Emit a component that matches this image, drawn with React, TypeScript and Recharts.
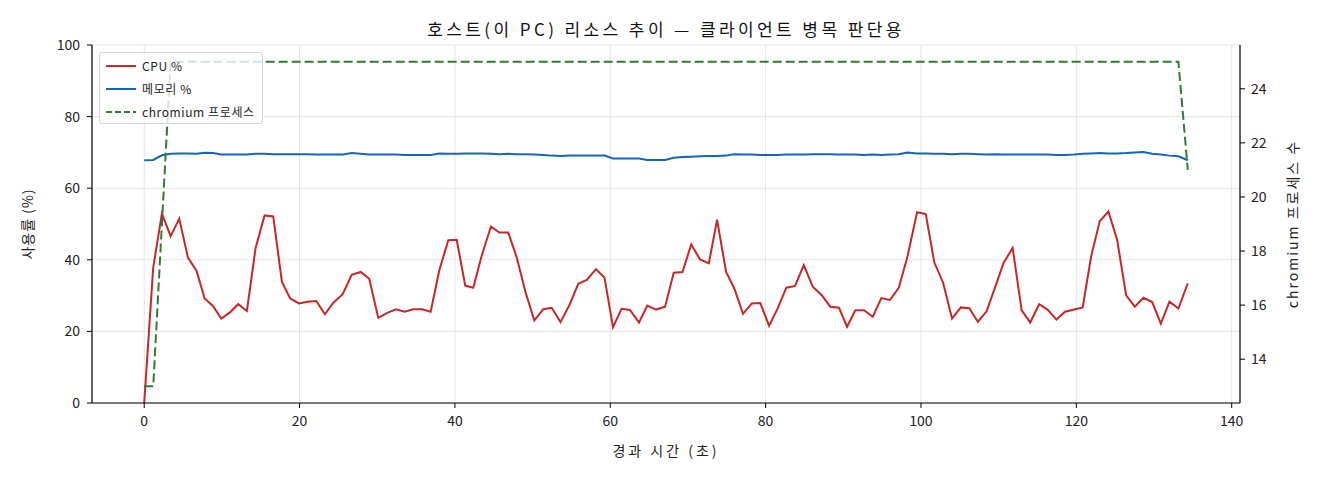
import React from "react";
import { ComposedChart, Line, XAxis, YAxis, CartesianGrid } from "recharts";

const FONT = "'Noto Sans CJK KR', 'Noto Sans', sans-serif";

const TITLE = "호스트(이 PC) 리소스 추이 — 클라이언트 병목 판단용";
const X_LABEL = "경과 시간 (초)";
const Y_LABEL = "사용률 (%)";
const Y2_LABEL = "chromium 프로세스 수";
const SERIES_NAMES = ["CPU %", "메모리 %", "chromium 프로세스"];

const X_TICKS = [0, 20, 40, 60, 80, 100, 120, 140];
const Y_TICKS = [0, 20, 40, 60, 80, 100];
const Y2_TICKS = [14, 16, 18, 20, 22, 24];

const times = [
  0, 1.16, 2.28, 3.4, 4.51, 5.63, 6.75, 7.78, 8.85, 9.92,
  11.04, 12.1, 13.22, 14.34, 15.5, 16.61, 17.73, 18.8, 19.92, 21.04,
  22.15, 23.27, 24.34, 25.55, 26.71, 27.87, 28.97, 30.13, 31.29, 32.41,
  33.51, 34.64, 35.76, 36.88, 37.99, 39.15, 40.23, 41.33, 42.36, 43.48,
  44.64, 45.71, 46.87, 47.95, 49.11, 50.22, 51.38, 52.46, 53.59, 54.73,
  55.88, 56.97, 58.16, 59.26, 60.35, 61.45, 62.54, 63.7, 64.77, 65.89,
  67.05, 68.17, 69.3, 70.42, 71.56, 72.69, 73.75, 74.91, 75.97, 77.09,
  78.21, 79.32, 80.44, 81.51, 82.67, 83.79, 84.91, 86.07, 87.23, 88.32,
  89.45, 90.48, 91.55, 92.67, 93.79, 94.9, 96.02, 97.14, 98.25, 99.5,
  100.62, 101.71, 102.85, 104.0, 105.13, 106.22, 107.33, 108.45, 109.57, 110.64,
  111.8, 112.96, 114.07, 115.21, 116.3, 117.44, 118.54, 119.7, 120.82, 121.91,
  123.01, 124.13, 125.25, 126.41, 127.53, 128.64, 129.76, 130.88, 131.99, 133.14,
  134.35,
];

const cpu = [
  0, 37.8, 52.9, 46.6, 51.5, 40.6, 36.9, 29.2, 27.1, 23.6,
  25.3, 27.6, 25.7, 43.3, 52.4, 52.1, 33.8, 29.2, 27.8, 28.3,
  28.5, 24.8, 28.0, 30.4, 35.8, 36.6, 34.7, 23.8, 25.2, 26.2,
  25.5, 26.2, 26.2, 25.5, 37.1, 45.5, 45.6, 32.8, 32.2, 41.4,
  49.3, 47.6, 47.6, 40.7, 30.8, 23.1, 26.2, 26.6, 22.6, 27.3,
  33.3, 34.4, 37.4, 35.0, 21.2, 26.3, 26.0, 22.5, 27.2, 26.1,
  26.9, 36.4, 36.6, 44.3, 40.1, 39.0, 51.2, 36.6, 32.0, 24.9,
  27.8, 27.9, 21.6, 26.2, 32.2, 32.7, 38.5, 32.5, 30.1, 26.9,
  26.6, 21.3, 25.9, 25.9, 24.1, 29.3, 28.8, 32.2, 40.8, 53.3,
  52.8, 39.3, 33.6, 23.6, 26.7, 26.5, 22.7, 25.6, 32.5, 39.2,
  43.3, 25.9, 22.5, 27.6, 26.1, 23.3, 25.5, 26.1, 26.7, 41.0,
  50.8, 53.5, 45.6, 30.1, 26.9, 29.4, 28.2, 22.2, 28.3, 26.4,
  33.4,
];

const mem = [
  67.8, 67.9, 69.2, 69.6, 69.7, 69.7, 69.6, 69.9, 69.8, 69.4,
  69.4, 69.4, 69.4, 69.6, 69.6, 69.5, 69.5, 69.5, 69.5, 69.5,
  69.4, 69.4, 69.4, 69.4, 69.8, 69.6, 69.4, 69.4, 69.4, 69.4,
  69.3, 69.3, 69.3, 69.3, 69.7, 69.6, 69.6, 69.7, 69.7, 69.7,
  69.6, 69.5, 69.6, 69.5, 69.5, 69.4, 69.3, 69.1, 69.0, 69.1,
  69.1, 69.1, 69.1, 69.1, 68.3, 68.3, 68.3, 68.3, 67.9, 67.9,
  67.9, 68.5, 68.7, 68.8, 68.9, 69.0, 69.0, 69.1, 69.5, 69.4,
  69.4, 69.3, 69.3, 69.3, 69.4, 69.4, 69.4, 69.5, 69.5, 69.5,
  69.4, 69.4, 69.4, 69.3, 69.4, 69.3, 69.4, 69.5, 70.0, 69.7,
  69.7, 69.6, 69.6, 69.5, 69.6, 69.6, 69.5, 69.4, 69.5, 69.4,
  69.4, 69.4, 69.4, 69.4, 69.4, 69.3, 69.3, 69.4, 69.6, 69.7,
  69.8, 69.7, 69.7, 69.8, 70.0, 70.1, 69.6, 69.4, 69.1, 68.9,
  67.8,
];

const chromium = [
  13, 13, 19, 25, 25, 25, 25, 25, 25, 25,
  25, 25, 25, 25, 25, 25, 25, 25, 25, 25,
  25, 25, 25, 25, 25, 25, 25, 25, 25, 25,
  25, 25, 25, 25, 25, 25, 25, 25, 25, 25,
  25, 25, 25, 25, 25, 25, 25, 25, 25, 25,
  25, 25, 25, 25, 25, 25, 25, 25, 25, 25,
  25, 25, 25, 25, 25, 25, 25, 25, 25, 25,
  25, 25, 25, 25, 25, 25, 25, 25, 25, 25,
  25, 25, 25, 25, 25, 25, 25, 25, 25, 25,
  25, 25, 25, 25, 25, 25, 25, 25, 25, 25,
  25, 25, 25, 25, 25, 25, 25, 25, 25, 25,
  25, 25, 25, 25, 25, 25, 25, 25, 25, 25,
  21,
];

const COLORS = { cpu: "#c62828", mem: "#1565c0", chromium: "#2e7d32" };

const rows = times.map((t, i) => ({
  t,
  cpu: cpu[i],
  mem: mem[i],
  chromium: chromium[i],
}));

const tickStyle = { fontSize: 14, fill: "#222", fontFamily: FONT };

function LegendBox() {
  const items = [
    { name: SERIES_NAMES[0], color: COLORS.cpu, dash: undefined },
    { name: SERIES_NAMES[1], color: COLORS.mem, dash: undefined },
    { name: SERIES_NAMES[2], color: COLORS.chromium, dash: "6 3" },
  ];
  return (
    <div
      style={{
        position: "absolute",
        left: 99,
        top: 52,
        width: 164,
        height: 72,
        border: "1px solid #d4d4d4",
        borderRadius: 3,
        background: "rgba(255,255,255,0.8)",
        boxSizing: "border-box",
        paddingTop: 1,
        fontFamily: FONT,
      }}
    >
      {items.map((it) => (
        <div
          key={it.name}
          style={{ display: "flex", alignItems: "center", height: 23 }}
        >
          <svg width={42} height={10} style={{ flex: "none" }}>
            <line
              x1={6}
              x2={36}
              y1={5}
              y2={5}
              stroke={it.color}
              strokeWidth={2}
              strokeDasharray={it.dash}
            />
          </svg>
          <span
            style={{
              fontSize: 12,
              letterSpacing: 0.6,
              color: "#222",
              whiteSpace: "nowrap",
            }}
          >
            {it.name}
          </span>
        </div>
      ))}
    </div>
  );
}

export default function App() {
  return (
    <div
      style={{
        position: "absolute",
        left: 0,
        top: 0,
        width: 1320,
        height: 480,
        background: "#fff",
        fontFamily: FONT,
      }}
    >
      <ComposedChart
        width={1320}
        height={480}
        data={rows}
        margin={{ top: 45, right: 20, bottom: 27, left: 32 }}
      >
        <CartesianGrid stroke="#e4e4e4" strokeWidth={1} yAxisId="left" />
        <XAxis
          dataKey="t"
          type="number"
          domain={[-6.72, 141.07]}
          ticks={X_TICKS}
          allowDataOverflow
          height={50}
          tick={tickStyle}
          tickSize={5}
          tickLine={{ stroke: "#000" }}
          axisLine={{ stroke: "#000", strokeWidth: 1.2 }}
          tickMargin={8}
        />
        <XAxis
          xAxisId="top"
          orientation="top"
          dataKey="t"
          type="number"
          domain={[-6.72, 141.07]}
          tick={false}
          tickLine={false}
          height={0}
          axisLine={{ stroke: "#000", strokeWidth: 1.2 }}
        />
        <YAxis
          yAxisId="left"
          domain={[0, 100]}
          ticks={Y_TICKS}
          width={60}
          tick={tickStyle}
          tickSize={5}
          tickLine={{ stroke: "#000" }}
          axisLine={{ stroke: "#000", strokeWidth: 1.2 }}
          tickMargin={7}
        />
        <YAxis
          yAxisId="right"
          orientation="right"
          domain={[12.38, 25.62]}
          ticks={Y2_TICKS}
          allowDataOverflow
          width={60}
          tick={tickStyle}
          tickSize={5}
          tickLine={{ stroke: "#000" }}
          axisLine={{ stroke: "#000", strokeWidth: 1.2 }}
          tickMargin={6}
        />
        <Line
          yAxisId="left"
          dataKey="cpu"
          name={SERIES_NAMES[0]}
          stroke={COLORS.cpu}
          strokeWidth={2}
          dot={false}
          type="linear"
          isAnimationActive={false}
        />
        <Line
          yAxisId="left"
          dataKey="mem"
          name={SERIES_NAMES[1]}
          stroke={COLORS.mem}
          strokeWidth={2}
          dot={false}
          type="linear"
          isAnimationActive={false}
        />
        <Line
          yAxisId="right"
          dataKey="chromium"
          name={SERIES_NAMES[2]}
          stroke={COLORS.chromium}
          strokeWidth={2}
          strokeDasharray="9 4"
          dot={false}
          type="linear"
          isAnimationActive={false}
        />
      </ComposedChart>
      <LegendBox />
      <div
        style={{
          position: "absolute",
          left: 92,
          width: 1148,
          top: 16,
          textAlign: "center",
          fontSize: 17,
          letterSpacing: 3.4,
          color: "#111",
          whiteSpace: "nowrap",
        }}
      >
        {TITLE}
      </div>
      <div
        style={{
          position: "absolute",
          left: 92,
          width: 1148,
          top: 440,
          textAlign: "center",
          fontSize: 14,
          letterSpacing: 3,
          color: "#222",
          whiteSpace: "nowrap",
        }}
      >
        {X_LABEL}
      </div>
      <div
        style={{
          position: "absolute",
          left: 27,
          top: 224,
          transform: "translate(-50%, -50%) rotate(-90deg)",
          fontSize: 14,
          letterSpacing: 1,
          color: "#222",
          whiteSpace: "nowrap",
        }}
      >
        {Y_LABEL}
      </div>
      <div
        style={{
          position: "absolute",
          left: 1292,
          top: 224,
          transform: "translate(-50%, -50%) rotate(-90deg)",
          fontSize: 14,
          letterSpacing: 2,
          color: "#222",
          whiteSpace: "nowrap",
        }}
      >
        {Y2_LABEL}
      </div>
    </div>
  );
}
